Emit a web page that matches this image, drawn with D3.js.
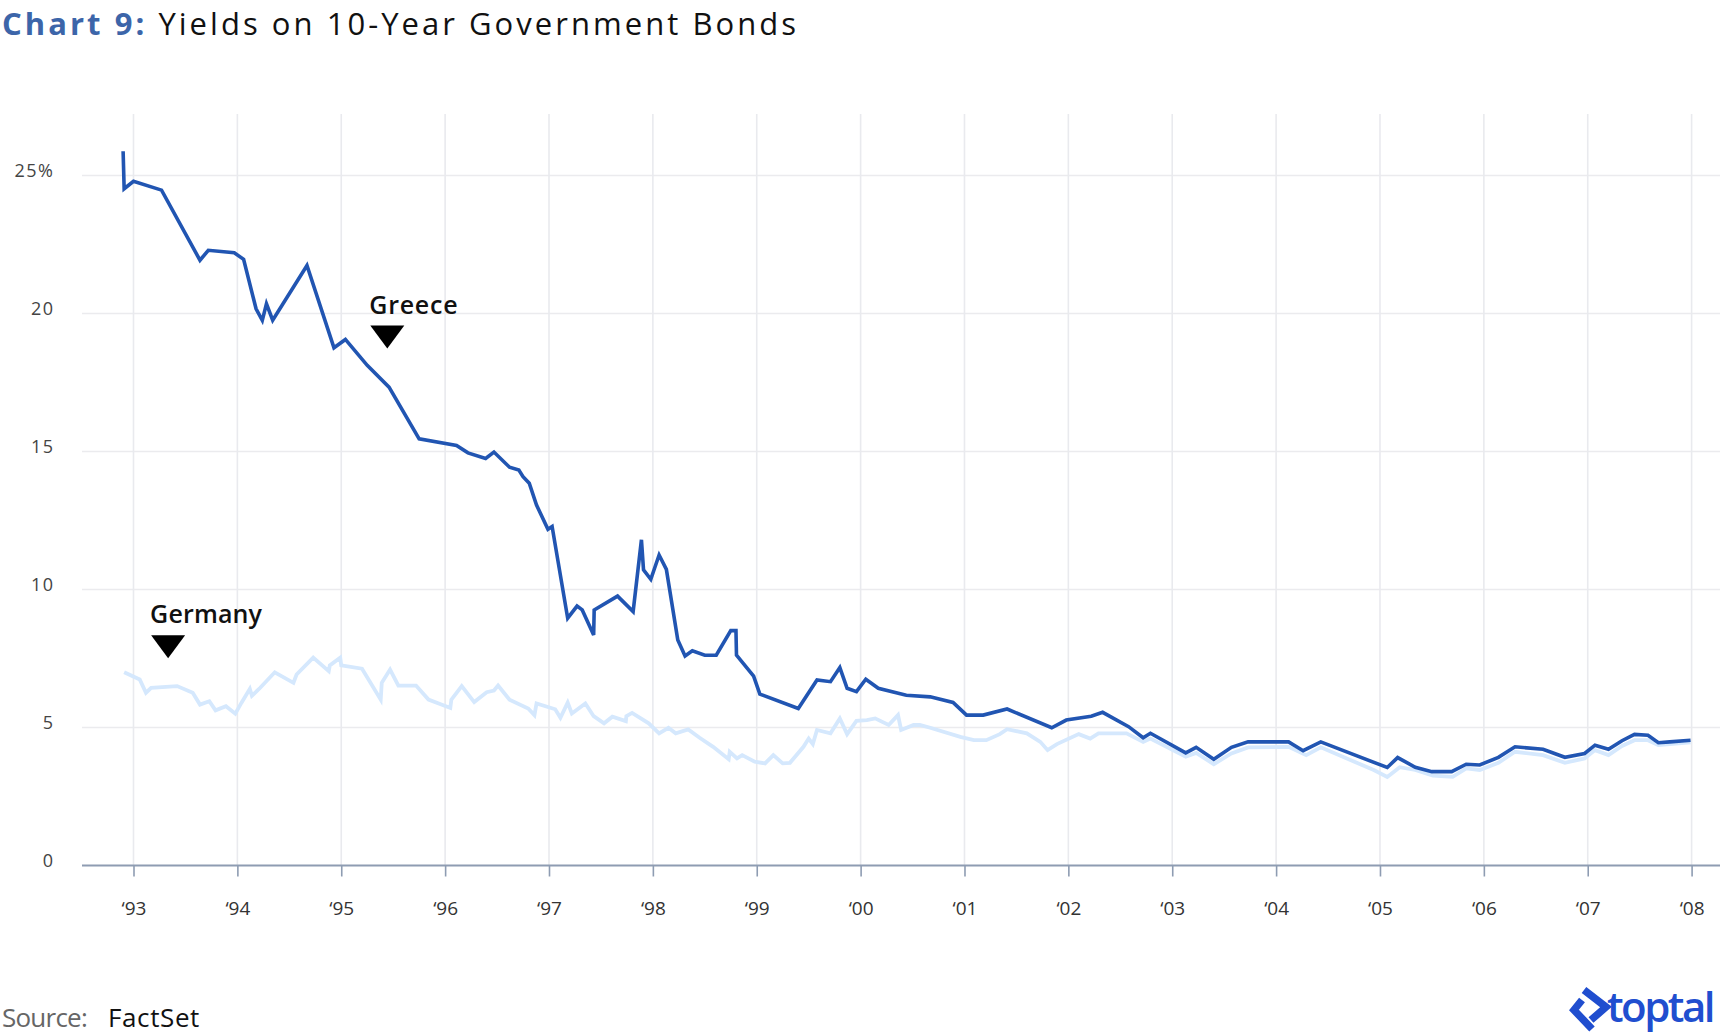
<!DOCTYPE html>
<html>
<head>
<meta charset="utf-8">
<script src="https://cdn.jsdelivr.net/npm/d3@7"></script>
<style>
  body { margin: 0; background: #fff; }
  text { font-family: "Open Sans", Lato, sans-serif; }
</style>
</head>
<body>
<div id="chart"></div>
<script>
// values (decimal year, yield %)
var greeceDates = [1992.90, 1992.91, 1993.00, 1993.27, 1993.64, 1993.72, 1993.97, 1994.06, 1994.18, 1994.24,
  1994.28, 1994.34, 1994.67, 1994.93, 1995.04, 1995.25, 1995.46, 1995.75, 1996.11, 1996.22,
  1996.39, 1996.47, 1996.62, 1996.71, 1996.75, 1996.81, 1996.88, 1996.99, 1997.03, 1997.18,
  1997.27, 1997.32, 1997.43, 1997.435, 1997.66, 1997.81, 1997.89, 1997.91, 1997.98, 1998.06,
  1998.13, 1998.24, 1998.31, 1998.38, 1998.50, 1998.61, 1998.75, 1998.80, 1998.805, 1998.97,
  1999.03, 1999.40, 1999.58, 1999.71, 1999.80, 1999.87, 1999.96, 2000.05, 2000.17, 2000.44,
  2000.67, 2000.89, 2001.02, 2001.18, 2001.41, 2001.84, 2001.98, 2002.22, 2002.33, 2002.58,
  2002.72, 2002.79, 2003.13, 2003.23, 2003.40, 2003.57, 2003.73, 2004.12, 2004.26, 2004.43,
  2005.07, 2005.17, 2005.34, 2005.50, 2005.69, 2005.83, 2005.96, 2006.14, 2006.30, 2006.57,
  2006.78, 2006.97, 2007.07, 2007.20, 2007.33, 2007.45, 2007.58, 2007.68, 2007.79, 2007.99];
var greeceYields = [25.88, 24.52, 24.79, 24.47, 21.93, 22.29, 22.20, 21.96, 20.17, 19.75,
  20.35, 19.76, 21.74, 18.76, 19.06, 18.12, 17.33, 15.46, 15.22, 14.95,
  14.75, 14.98, 14.43, 14.33, 14.09, 13.85, 13.06, 12.18, 12.28, 8.96,
  9.40, 9.26, 8.35, 9.26, 9.76, 9.20, 11.80, 10.71, 10.37, 11.25,
  10.73, 8.17, 7.59, 7.78, 7.62, 7.62, 8.51, 8.51, 7.62, 6.86,
  6.21, 5.69, 6.72, 6.66, 7.17, 6.42, 6.30, 6.75, 6.42, 6.17,
  6.11, 5.91, 5.45, 5.45, 5.67, 4.99, 5.27, 5.41, 5.55, 5.03,
  4.63, 4.79, 4.08, 4.28, 3.85, 4.28, 4.48, 4.48, 4.16, 4.48,
  3.55, 3.91, 3.56, 3.40, 3.40, 3.67, 3.64, 3.92, 4.30, 4.21,
  3.92, 4.06, 4.36, 4.21, 4.52, 4.75, 4.72, 4.45, 4.48, 4.54];

var germanyDates = [1992.91, 1993.06, 1993.12, 1993.17, 1993.42, 1993.57, 1993.64, 1993.73, 1993.79, 1993.89,
  1993.98, 1994.04, 1994.12, 1994.14, 1994.22, 1994.36, 1994.54, 1994.57, 1994.73, 1994.88,
  1994.89, 1994.99, 1995.00, 1995.20, 1995.38, 1995.39, 1995.47, 1995.55, 1995.72, 1995.84,
  1996.05, 1996.06, 1996.16, 1996.28, 1996.40, 1996.47, 1996.51, 1996.62, 1996.80, 1996.86,
  1996.88, 1997.06, 1997.11, 1997.18, 1997.22, 1997.35, 1997.43, 1997.53, 1997.61, 1997.74,
  1997.745, 1997.80, 1997.96, 1998.06, 1998.15, 1998.22, 1998.34, 1998.45, 1998.58, 1998.73,
  1998.74, 1998.81, 1998.86, 1998.98, 1999.08, 1999.16, 1999.25, 1999.32, 1999.45, 1999.50,
  1999.54, 1999.58, 1999.71, 1999.80, 1999.87, 1999.96, 2000.06, 2000.14, 2000.27, 2000.36,
  2000.39, 2000.51, 2000.57, 2000.67, 2000.96, 2001.09, 2001.21, 2001.34, 2001.41, 2001.60,
  2001.73, 2001.80, 2001.89, 2002.10, 2002.21, 2002.29, 2002.56, 2002.72, 2002.79, 2003.13,
  2003.23, 2003.40, 2003.57, 2003.73, 2004.12, 2004.29, 2004.43, 2004.94, 2005.07, 2005.19,
  2005.34, 2005.51, 2005.70, 2005.83, 2005.96, 2006.14, 2006.30, 2006.57, 2006.78, 2006.97,
  2007.07, 2007.20, 2007.33, 2007.45, 2007.58, 2007.68, 2007.79, 2007.99];
var germanyYields = [7.00, 6.74, 6.26, 6.44, 6.50, 6.26, 5.83, 5.95, 5.62, 5.77,
  5.50, 5.90, 6.40, 6.15, 6.44, 7.00, 6.62, 6.92, 7.53, 7.04,
  7.25, 7.53, 7.25, 7.13, 6.01, 6.62, 7.10, 6.52, 6.52, 6.01,
  5.71, 6.01, 6.50, 5.92, 6.28, 6.34, 6.52, 6.01, 5.69, 5.45,
  5.87, 5.66, 5.35, 5.90, 5.51, 5.87, 5.41, 5.15, 5.39, 5.23,
  5.41, 5.53, 5.15, 4.79, 4.99, 4.79, 4.93, 4.63, 4.30, 3.85,
  4.12, 3.88, 4.00, 3.76, 3.70, 4.00, 3.70, 3.72, 4.30, 4.60,
  4.40, 4.91, 4.79, 5.33, 4.76, 5.24, 5.27, 5.33, 5.09, 5.45,
  4.91, 5.09, 5.09, 4.99, 4.66, 4.54, 4.54, 4.76, 4.94, 4.79,
  4.48, 4.18, 4.40, 4.76, 4.60, 4.79, 4.79, 4.48, 4.60, 3.94,
  4.08, 3.67, 4.06, 4.28, 4.30, 4.00, 4.28, 3.46, 3.21, 3.56,
  3.46, 3.26, 3.21, 3.52, 3.46, 3.72, 4.12, 4.00, 3.72, 3.88,
  4.18, 4.00, 4.33, 4.54, 4.54, 4.36, 4.40, 4.46];

var yearTicks = d3.range(1993, 2009);
var yearLabels = ["‘93", "‘94", "‘95", "‘96", "‘97", "‘98", "‘99", "‘00",
  "‘01", "‘02", "‘03", "‘04", "‘05", "‘06", "‘07", "‘08"];
var yTicks = [0, 5, 10, 15, 20, 25];
var yLabels = ["0", "5", "10", "15", "20", "25%"];

var annotations = [
  {name: "Greece", year: 1995.27, value: 20.0},
  {name: "Germany", year: 1993.16, value: 8.78}
];

var width = 1720, height = 1036;
var plotLeft = 82, plotTop = 114;

var x = d3.scaleLinear().domain([1993, 2008]).range([133.5, 1691.6]);
var y = d3.scaleLinear().domain([0, 25]).range([865.5, 175.5]);

var svg = d3.select("#chart").append("svg")
  .attr("width", width)
  .attr("height", height);

// stretch text to the width measured on the original (its font is wider than ours)
function fitWidth(sel, target) {
  sel.each(function() {
    var len = this.getComputedTextLength(),
        n = this.textContent.length;
    d3.select(this).style("letter-spacing", ((target - len) / n) + "px");
  });
}

// title
var title = svg.append("text")
  .attr("x", 2)
  .attr("y", 35)
  .style("font-size", "31px");
title.append("tspan").text("Chart 9:").style("font-weight", "700").style("fill", "#3c65a9");
title.append("tspan").text(" Yields on 10-Year Government Bonds").style("fill", "#111");
fitWidth(title, 797);

// gridlines
svg.append("g").selectAll("line")
  .data(yTicks.filter(function(d){ return d > 0; }))
  .enter().append("line")
  .attr("x1", plotLeft).attr("x2", width)
  .attr("y1", function(d){ return y(d); })
  .attr("y2", function(d){ return y(d); })
  .style("stroke", "#ebebee")
  .style("stroke-width", 1.6);

svg.append("g").selectAll("line")
  .data(yearTicks)
  .enter().append("line")
  .attr("x1", function(d){ return x(d); })
  .attr("x2", function(d){ return x(d); })
  .attr("y1", plotTop).attr("y2", y(0))
  .style("stroke", "#e9eaee")
  .style("stroke-width", 1.6);

// y labels
var yl = svg.append("g").selectAll("text")
  .data(yTicks)
  .enter().append("text")
  .attr("x", 53)
  .attr("y", function(d){ return y(d) + 1; })
  .attr("text-anchor", "end")
  .style("font-size", "18px")
  .style("fill", "#444")
  .text(function(d, i){ return yLabels[i]; });
var ySpacing = (40 - yl.filter(function(d){ return d === 25; }).node().getComputedTextLength()) / 3;
yl.style("letter-spacing", ySpacing + "px").attr("dx", ySpacing);

// x axis
var xAxis = d3.axisBottom(x)
  .tickValues(yearTicks)
  .tickSize(11)
  .tickPadding(25)
  .tickFormat(function(d, i){ return yearLabels[i]; });

var ax = svg.append("g")
  .attr("transform", "translate(0," + y(0) + ")")
  .call(xAxis);
ax.select(".domain").remove();
ax.selectAll(".tick line").style("stroke", "#8e9cb2").style("stroke-width", 1.6);
ax.selectAll(".tick text")
  .style("font-family", "'Open Sans', sans-serif")
  .style("font-size", "19px")
  .style("fill", "#333");
ax.append("line")
  .attr("x1", plotLeft).attr("x2", width)
  .attr("y1", 0).attr("y2", 0)
  .style("stroke", "#8e9cb2")
  .style("stroke-width", 2);

// series
var line = d3.line()
  .x(function(d){ return x(d[0]); })
  .y(function(d){ return y(d[1]); });

var germany = germanyDates.map(function(d, i){ return [d, germanyYields[i]]; });
var greece = greeceDates.map(function(d, i){ return [d, greeceYields[i]]; });

svg.append("path")
  .datum(germany)
  .attr("d", line)
  .style("fill", "none")
  .style("stroke", "#d5e8fd")
  .style("stroke-width", 3.8)
  .style("stroke-linejoin", "miter");

svg.append("path")
  .datum(greece)
  .attr("d", line)
  .style("fill", "none")
  .style("stroke", "#2155b2")
  .style("stroke-width", 3.6)
  .style("stroke-linejoin", "miter");

// annotations
var ann = svg.append("g").selectAll("g")
  .data(annotations)
  .enter().append("g")
  .attr("transform", function(d){ return "translate(" + x(d.year) + "," + y(d.value) + ")"; });

var annText = ann.append("text")
  .attr("x", 0).attr("y", 0)
  .style("font-size", "25px")
  .style("font-weight", "600")
  .style("fill", "#111")
  .text(function(d){ return d.name; });
fitWidth(annText.filter(function(d){ return d.name === "Greece"; }), 89);
fitWidth(annText.filter(function(d){ return d.name === "Germany"; }), 112);

ann.append("path")
  .attr("d", "M1,12 L35,12 L18,35 Z")
  .style("fill", "#000");

// source
var src1 = svg.append("text")
  .attr("x", 2)
  .attr("y", 1027)
  .style("font-size", "26px")
  .style("fill", "#666")
  .text("Source:");
fitWidth(src1, 85);
var src2 = svg.append("text")
  .attr("x", 108)
  .attr("y", 1027)
  .style("font-size", "26px")
  .style("fill", "#111")
  .text("FactSet");
fitWidth(src2, 92);

// logo
var logo = svg.append("g").attr("transform", "translate(1570,987)");
logo.append("path")
  .attr("d", "M14,3 L36,20 L21,33 M12,13 L4,23 L22,42")
  .style("fill", "none")
  .style("stroke", "#204ecf")
  .style("stroke-width", 7.5)
  .style("stroke-linejoin", "miter");
var brand = svg.append("text")
  .attr("x", 1607)
  .attr("y", 1022)
  .style("font-size", "42px")
  .style("font-weight", "600")
  .style("fill", "#204ecf")
  .text("toptal");
fitWidth(brand, 106);
</script>
</body>
</html>
